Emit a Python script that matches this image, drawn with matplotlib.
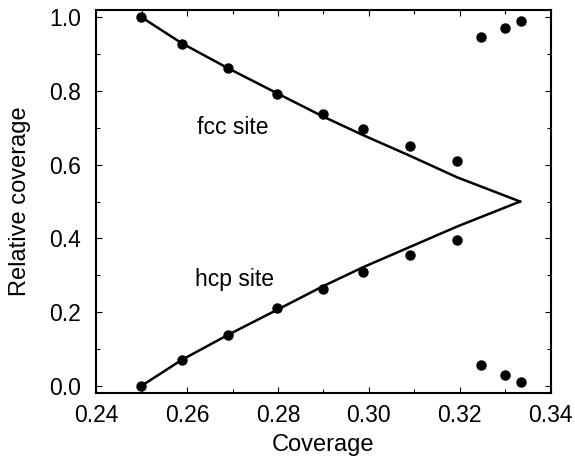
import matplotlib
matplotlib.use("Agg")
import matplotlib.pyplot as plt
from matplotlib.ticker import MultipleLocator

# Data points (coverage, relative coverage)
x_pts = [0.2499, 0.2588, 0.2690, 0.2798, 0.2899, 0.2988, 0.3091, 0.3194, 0.3247, 0.3300, 0.3335]
fcc_pts = [1.000, 0.929, 0.864, 0.792, 0.739, 0.697, 0.652, 0.611, 0.946, 0.972, 0.991]
hcp_pts = [0.000, 0.070, 0.138, 0.210, 0.263, 0.308, 0.354, 0.395, 0.057, 0.030, 0.010]

# Model curves
x_line = [0.2500, 0.2588, 0.2690, 0.2798, 0.2899, 0.2988, 0.3091, 0.3194, 0.3333]
fcc_line = [1.000, 0.930, 0.862, 0.794, 0.731, 0.680, 0.624, 0.566, 0.500]
hcp_line = [0.000, 0.070, 0.138, 0.206, 0.270, 0.322, 0.377, 0.432, 0.500]

xticks = [0.24, 0.26, 0.28, 0.30, 0.32, 0.34]
yticks = [0.0, 0.2, 0.4, 0.6, 0.8, 1.0]

plt.rcParams['font.family'] = ['Liberation Sans', 'DejaVu Sans']

fig = plt.figure(figsize=(5.75, 4.59), dpi=100)
ax = fig.add_axes([0.1677, 0.1438, 0.9574 - 0.1677, 0.978 - 0.1438])

ax.plot(x_line, fcc_line, color='black', lw=1.8, solid_joinstyle='miter')
ax.plot(x_line, hcp_line, color='black', lw=1.8, solid_joinstyle='miter')
ax.plot(x_pts, fcc_pts, 'o', color='black', ms=6.5)
ax.plot(x_pts, hcp_pts, 'o', color='black', ms=6.5)

ax.set_xlim(0.24, 0.34)
ax.set_ylim(-0.02, 1.02)
ax.set_xticks(xticks)
ax.set_xticklabels([f"{v:.2f}" for v in xticks])
ax.set_yticks(yticks)
ax.set_yticklabels([f"{v:.1f}" for v in yticks])
ax.xaxis.set_minor_locator(MultipleLocator(0.01))
ax.yaxis.set_minor_locator(MultipleLocator(0.1))
ax.tick_params(which='both', direction='in', top=True, right=True, width=0.8, labelsize=16.5)
ax.tick_params(which='major', length=4)
ax.tick_params(axis='x', which='major', pad=8)
ax.tick_params(axis='y', which='major', pad=11)
ax.tick_params(which='minor', length=3)
for s in ax.spines.values():
    s.set_linewidth(1.5)

ax.set_xlabel('Coverage', fontsize=17)
ax.set_ylabel('Relative coverage', fontsize=17)
ax.xaxis.set_label_coords(0.5, -0.108)
ax.yaxis.set_label_coords(-0.144, 0.5)

ax.text(0.2701, 0.70, 'fcc site', fontsize=16.5, ha='center', va='center')
ax.text(0.2705, 0.287, 'hcp site', fontsize=16.5, ha='center', va='center')

fig.savefig('out.png', dpi=100)
